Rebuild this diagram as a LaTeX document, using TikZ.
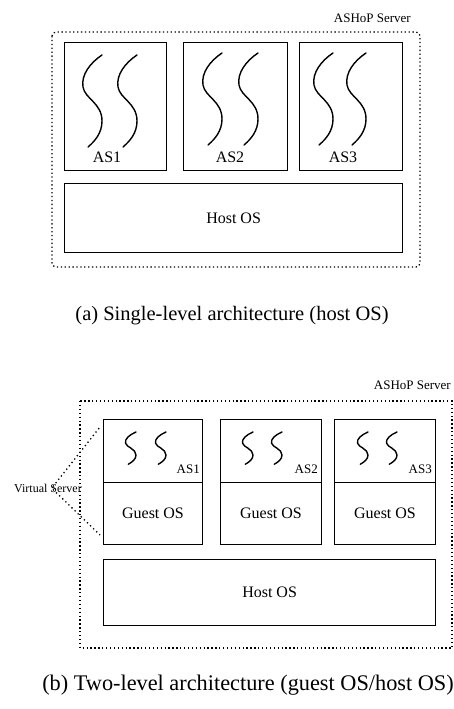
\documentclass[tikz,border=0pt]{standalone}
\usepackage{fontspec}
\setmainfont{Liberation Serif}
\begin{document}
\begin{tikzpicture}[x=1pt,y=-1pt,
  box/.style={draw, line width=1.2pt, inner sep=0pt, anchor=north west},
  outer/.style={draw, line width=1.3pt, dash pattern=on 1.3pt off 2.6pt},
  leader/.style={draw, line width=1.3pt, dash pattern=on 1.3pt off 3pt},
  thread/.style={line width=1.4pt, line cap=round},
  lbl/.style={font=\fontsize{16}{18}\selectfont, inner sep=0pt},
  small/.style={font=\fontsize{13}{15}\selectfont, inner sep=0pt},
  tag/.style={font=\fontsize{13}{15}\selectfont, inner sep=0pt},
  caption/.style={font=\fontsize{20.5}{24}\selectfont, inner sep=0pt},
  sthread/.pic={\draw[thread] (0,0) .. controls (-12,8) and (-21,20) .. (-19,32)
      .. controls (-17,44) and (0,48) .. (0,66) .. controls (0,78) and (-7,86) .. (-14,92);}
]
\useasboundingbox (0,0) rectangle (454,709);

% ---------- (a) single-level architecture ----------
\draw[outer, rounded corners=4pt] (52,32) rectangle (420,267);
\node[tag, anchor=east] (srvA) at (411,18) {ASHoP Server};

\node[box, minimum width=102pt, minimum height=128pt] (as1) at (64,42) {};
\node[box, minimum width=104pt, minimum height=128pt] (as2) at (183,42) {};
\node[box, minimum width=103pt, minimum height=128pt] (as3) at (299,42) {};
\node[box, minimum width=338pt, minimum height=69pt] (hostA) at (64,183) {};

\pic at (102,55) {sthread};
\pic at (137,55) {sthread};
\pic at (222,53) {sthread};
\pic at (258,53) {sthread};
\pic at (333,53) {sthread};
\pic at (366,53) {sthread};

\node[lbl] (as1l) at (107,157) {AS1};
\node[lbl] (as2l) at (230,157) {AS2};
\node[lbl] (as3l) at (343,157) {AS3};
\node[lbl] (hostAl) at (hostA.center) {Host OS};

\node[caption] (capA) at (232,316) {(a) Single-level architecture (host OS)};

% ---------- (b) two-level architecture ----------
\draw[outer] (80,401) rectangle (452,648);
\node[tag, anchor=east] (srvB) at (451,385) {ASHoP Server};

\node[box, minimum width=99pt, minimum height=125pt] (g1) at (103,419) {};
\node[box, minimum width=101pt, minimum height=125pt] (g2) at (220,419) {};
\node[box, minimum width=101pt, minimum height=125pt] (g3) at (334,419) {};
\node[box, minimum width=332pt, minimum height=66pt] (hostB) at (103,559) {};

\foreach \g in {g1,g2,g3}{
  \draw[line width=1pt] ([yshift=-63pt]\g.north west) -- ([yshift=-63pt]\g.north east);
}

\pic[xscale=0.55, yscale=0.35] at (136,432) {sthread};
\pic[xscale=0.55, yscale=0.35] at (166,432) {sthread};
\pic[xscale=0.55, yscale=0.35] at (253,432) {sthread};
\pic[xscale=0.55, yscale=0.35] at (282,432) {sthread};
\pic[xscale=0.55, yscale=0.35] at (368,432) {sthread};
\pic[xscale=0.55, yscale=0.35] at (397,432) {sthread};

\node[small, anchor=base east] (vs1) at (200,473) {AS1};
\node[small, anchor=base east] (vs2) at (318,473) {AS2};
\node[small, anchor=base east] (vs3) at (432,473) {AS3};

\node[lbl] (go1) at (153,513) {Guest OS};
\node[lbl] (go2) at (271,513) {Guest OS};
\node[lbl] (go3) at (385,513) {Guest OS};
\node[lbl] (hostBl) at (hostB.center) {Host OS};

\node[font=\fontsize{12}{14}\selectfont, inner sep=0pt] (vsrv) at (48,488) {Virtual Server};
\coordinate (vtop) at (100,427);
\coordinate (vbot) at (100,535);
\draw[leader] ([xshift=5pt,yshift=-3pt]vsrv.north) -- (vtop);
\draw[leader] ([xshift=5pt,yshift=3pt]vsrv.south) -- (vbot);

\node[caption, font=\fontsize{22.3}{26}\selectfont] (capB) at (248,685) {(b) Two-level architecture (guest OS/host OS)};
\end{tikzpicture}
\end{document}
